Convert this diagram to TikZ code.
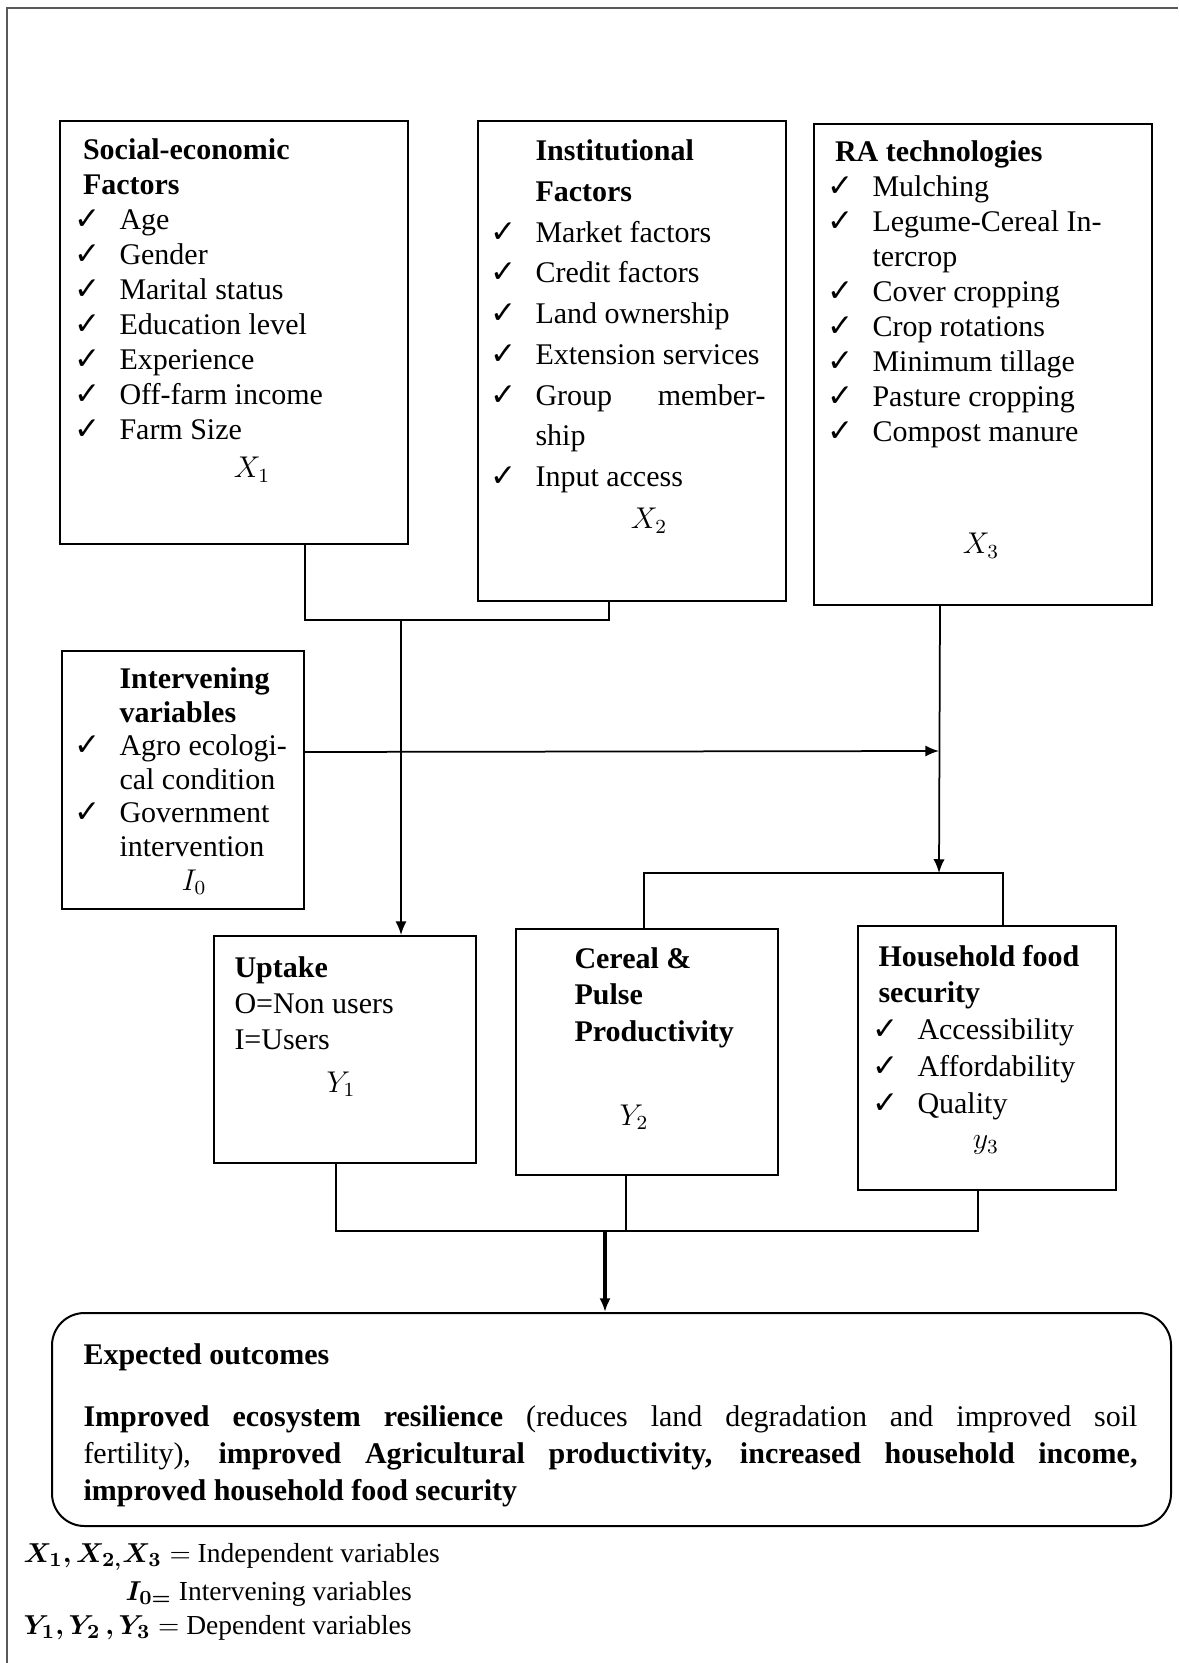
\documentclass[tikz,border=0pt]{standalone}
\usepackage{fontspec}
\setmainfont{Liberation Serif}
\newfontfamily\symfont{DejaVu Sans}
\usepackage{bm}
\usetikzlibrary{arrows.meta,calc}
\newcommand{\ck}{{\symfont\fontsize{12.5}{12}\selectfont ✓}}
\tikzset{
  box/.style={draw, line width=0.8pt, anchor=north west, inner sep=0pt},
  txt/.style={anchor=base west, inner sep=0pt, font=\fontsize{12}{14}\selectfont},
  var/.style={inner sep=0pt, font=\fontsize{12}{14}\selectfont},
  link/.style={line width=0.7pt},
}
\begin{document}
\begin{tikzpicture}[x=0.4pt, y=0.4pt, >={Latex[length=5.5pt,width=4.5pt]}]
\useasboundingbox (0,0) rectangle (1178,-1663);
\draw[line width=0.9pt, black!65] (7,-1663) -- (7,-8) -- (1178,-8);

\node[box, minimum width=139.2pt, minimum height=169.2pt] (soc) at (59,-120) {};
\node[box, minimum width=123.2pt, minimum height=192pt] (inst) at (477,-120) {};
\node[box, minimum width=135.2pt, minimum height=192.4pt] (ra) at (813,-123) {};
\node[box, minimum width=96.8pt, minimum height=103.2pt] (int) at (61,-650) {};
\node[box, minimum width=104.8pt, minimum height=90.8pt] (upt) at (213,-935) {};
\node[box, minimum width=104.8pt, minimum height=98.4pt] (cer) at (515,-928) {};
\node[box, minimum width=103.2pt, minimum height=105.6pt] (hh) at (857,-925) {};
\node[box, rounded corners=13pt, minimum width=447.6pt, minimum height=85.2pt] (out) at (51,-1312) {};

\node[txt] (soc-t) at (74,-160) {\begin{tabular}[t]{@{}p{18pt}@{}l@{}}
\multicolumn{2}{@{\hspace{3.4pt}}l@{}}{\textbf{Social-economic}}\\
\multicolumn{2}{@{\hspace{3.4pt}}l@{}}{\textbf{Factors}}\\
\ck & Age\\
\ck & Gender\\
\ck & Marital status\\
\ck & Education level\\
\ck & Experience\\
\ck & Off-farm income\\
\ck & Farm Size
\end{tabular}};
\node[txt] (inst-t) at (490,-160.5) {\renewcommand{\arraystretch}{1.165}\begin{tabular}[t]{@{}p{18pt}@{}l@{}}
 & \textbf{Institutional}\\
 & \textbf{Factors}\\
\ck & Market factors\\
\ck & Credit factors\\
\ck & Land ownership\\
\ck & Extension services\\
\ck & \makebox[92pt][l]{Group\hfill member-}\\
 & ship\\
\ck & Input access
\end{tabular}};
\node[txt] (ra-t) at (827,-161.5) {\begin{tabular}[t]{@{}p{18pt}@{}l@{}}
\multicolumn{2}{@{\hspace{3pt}}l@{}}{\textbf{RA technologies}}\\
\ck & Mulching\\
\ck & Legume-Cereal In-\\
 & tercrop\\
\ck & Cover cropping\\
\ck & Crop rotations\\
\ck & Minimum tillage\\
\ck & Pasture cropping\\
\ck & Compost manure
\end{tabular}};
\node[txt] (int-t) at (74,-688.5) {\renewcommand{\arraystretch}{0.96}\begin{tabular}[t]{@{}p{18pt}@{}l@{}}
 & \textbf{Intervening}\\
 & \textbf{variables}\\
\ck & Agro ecologi-\\
 & cal condition\\
\ck & Government\\
 & intervention
\end{tabular}};
\node[txt] (upt-t) at (234,-977) {\renewcommand{\arraystretch}{1.04}\begin{tabular}[t]{@{}l@{}}
\textbf{Uptake}\\
O=Non users\\
I=Users
\end{tabular}};
\node[txt] (cer-t) at (574,-968.5) {\renewcommand{\arraystretch}{1.04}\begin{tabular}[t]{@{}l@{}}
\textbf{Cereal \&}\\
\textbf{Pulse}\\
\textbf{Productivity}
\end{tabular}};
\node[txt] (hh-t) at (872,-966) {\renewcommand{\arraystretch}{1.05}\begin{tabular}[t]{@{}p{18pt}@{}l@{}}
\multicolumn{2}{@{\hspace{2.4pt}}l@{}}{\textbf{Household food}}\\
\multicolumn{2}{@{\hspace{2.4pt}}l@{}}{\textbf{security}}\\
\ck & Accessibility\\
\ck & Affordability\\
\ck & Quality
\end{tabular}};

\node[var] (x1) at (252,-470) {$X_1$};
\node[var] (x2) at (649,-521) {$X_2$};
\node[var] (x3) at (981,-546) {$X_3$};
\node[var] (i0) at (194,-882) {$I_0$};
\node[var] (y1) at (341,-1084) {$Y_1$};
\node[var] (y2) at (634,-1117) {$Y_2$};
\node[var] (y3) at (986,-1145) {$y_3$};

\node[txt] (out-h) at (83,-1364) {\textbf{Expected outcomes}};
\node[txt, text width=421.6pt, align=justify, font=\fontsize{12}{14.8}\selectfont] (out-t) at (83,-1426) {\textbf{Improved ecosystem resilience} (reduces land degradation and improved soil\linebreak fertility), \textbf{improved Agricultural productivity, increased household income,}\linebreak \textbf{improved household food security}};

\node[txt, font=\fontsize{11}{13}\selectfont] (leg1) at (23,-1562) {$\bm{X_1, X_{2,}X_3} =$ Independent variables};
\node[txt, font=\fontsize{11}{13}\selectfont] (leg2) at (125,-1600) {$\bm{I_{0=}}$ Intervening variables};
\node[txt, font=\fontsize{11}{13}\selectfont] (leg3) at (23,-1634) {$\bm{Y_1, Y_2\,, Y_3} =$ Dependent variables};

\coordinate (j1) at (401,-620);
\coordinate (j2) at (939,-751);
\coordinate (j3) at (939,-873);
\coordinate (j4) at (605,-1231);
\draw[link] ($(soc.south)+(71,0)$) |- (j1) -| ($(inst.south)+(-23,0)$);
\draw[link,->] (j1) -- (j1 |- upt.north);
\draw[link,->] ($(int.east)+(0,28)$) -- (j2);
\draw[link,->] ($(ra.south)+(-43,0)$) -- (j3);
\draw[link] ($(cer.north)+(-3,0)$) |- (j3) -| ($(hh.north)+(16,0)$);
\draw[link] ($(upt.south)+(-9,0)$) |- (j4) -| ($(hh.south)+(-9,0)$);
\draw[link] ($(cer.south)+(-21,0)$) |- (j4);
\draw[->, line width=1.3pt] (j4) -- (j4 |- out.north);
\end{tikzpicture}
\end{document}
